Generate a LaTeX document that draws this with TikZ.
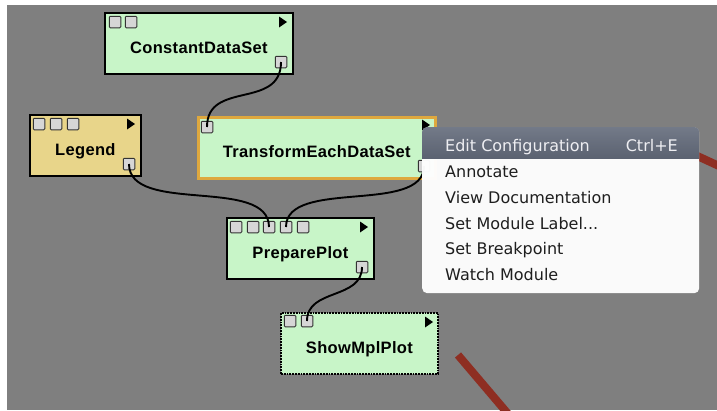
\documentclass[tikz,border=0pt]{standalone}
\usepackage{fontspec}
\setmainfont{Liberation Sans}
\newfontfamily\modfont[LetterSpace=2.0]{Liberation Sans}
\newfontfamily\menufont{DejaVu Sans}
\usetikzlibrary{shadows}
\definecolor{bg}{HTML}{7F7F7F}
\definecolor{modgreen}{HTML}{C8F5C8}
\definecolor{modtan}{HTML}{E8D58A}
\definecolor{selorange}{HTML}{DEA83E}
\definecolor{portfill}{HTML}{D6D6D6}
\definecolor{portline}{HTML}{333333}
\definecolor{wirered}{HTML}{8E2E22}
\definecolor{hltop}{HTML}{737A88}
\definecolor{hlbot}{HTML}{5B6271}
\definecolor{menutext}{HTML}{1E1E1E}
\definecolor{hltext}{HTML}{EEEEF2}
\begin{document}
\begin{tikzpicture}[x=1pt,y=-1pt,
  module/.style={draw=black, line width=1.8pt, fill=modgreen, anchor=north west,
    inner sep=0pt, text height=20pt, text depth=0pt,
    font=\modfont\bfseries\fontsize{16.5}{18}\selectfont},
  port/.style={draw=portline, fill=portfill, line width=1pt, minimum size=11.5pt,
    inner sep=0pt, rounded corners=1pt},
  wire/.style={draw=black, line width=1.9pt},
  redline/.style={draw=wirered, line width=8pt},
  item/.style={anchor=base west, inner sep=0pt, text=menutext,
    font=\menufont\fontsize{16}{18}\selectfont},
  playtri/.pic={\fill[black] (-4,-5.5) -- (4,0) -- (-4,5.5) -- cycle;}
]
\useasboundingbox (0,0) rectangle (717,410);
\fill[white] (0,0) rectangle (717,410);
\fill[bg] (7,5) rectangle (717,410);

% red strokes
\begin{scope}
  \clip (7,5) rectangle (717,410);
  \draw[redline] (680,148) -- (745,178);
  \draw[redline] (458,355) -- (520,428);
\end{scope}

% modules
\node[module, minimum width=188pt, minimum height=61pt] (cds) at (104,12) {ConstantDataSet};
\node[module, fill=modtan, minimum width=111pt, minimum height=61pt] (legend) at (29,114) {Legend};
\node[module, draw=selorange, line width=2.6pt, minimum width=237pt, minimum height=61pt] (teds) at (197,116) {TransformEachDataSet};
\node[module, minimum width=147pt, minimum height=61pt] (pp) at (226,217) {PreparePlot};
\node[module, densely dotted, line width=1.8pt, minimum width=157pt, minimum height=61pt] (smp) at (280,312) {ShowMplPlot};

% ports
\node[port] (cds-i1) at (115,22) {};
\node[port] (cds-i2) at (131,22) {};
\node[port] (cds-o) at (281,62) {};
\node[port] (legend-i1) at (39,124) {};
\node[port] (legend-i2) at (56,124) {};
\node[port] (legend-i3) at (73,124) {};
\node[port] (legend-o) at (129,164) {};
\node[port] (teds-i) at (207,127) {};
\node[port] (teds-o) at (424,166) {};
\node[port] (pp-i1) at (236,227) {};
\node[port] (pp-i2) at (253,227) {};
\node[port] (pp-i3) at (269,227) {};
\node[port] (pp-i4) at (286,227) {};
\node[port] (pp-i5) at (303,227) {};
\node[port] (pp-o) at (362,267) {};
\node[port] (smp-i1) at (290,321) {};
\node[port] (smp-i2) at (307,321) {};

% play triangles
\pic at (283,22) {playtri};
\pic at (131,124) {playtri};
\pic at (426,125) {playtri};
\pic at (364,227) {playtri};
\pic at (429,322) {playtri};

% wires
\draw[wire] (cds-o.center) .. controls +(0,48) and +(0,-47) .. (teds-i.center);
\draw[wire] (legend-o.center) .. controls +(0,51) and +(0,-51) .. (pp-i3.center);
\draw[wire] (teds-o.center) .. controls +(0,49) and +(0,-49) .. (pp-i4.center);
\draw[wire] (pp-o.center) .. controls +(0,33) and +(0,-33) .. (smp-i2.center);

% context menu
\node[fill=white, fill opacity=0.97, rounded corners=5pt, minimum width=277pt,
  minimum height=166pt, anchor=north west, inner sep=0pt,
  drop shadow={opacity=0.25, shadow xshift=0pt, shadow yshift=-3pt}] (menu) at (422,127) {};
\begin{scope}
  \clip[rounded corners=5pt] (menu.north west) rectangle (menu.south east);
  \shade[top color=hltop, bottom color=hlbot] (422,127) rectangle (699,158);
\end{scope}
\node[item, text=hltext] (m1) at (445,151) {Edit Configuration};
\node[item, text=hltext, anchor=base east] (m1k) at (678,151) {Ctrl+E};
\node[item] (m2) at (445,177) {Annotate};
\node[item] (m3) at (445,203) {View Documentation};
\node[item] (m4) at (445,229) {Set Module Label...};
\node[item] (m5) at (445,254) {Set Breakpoint};
\node[item] (m6) at (445,280) {Watch Module};
\end{tikzpicture}
\end{document}
